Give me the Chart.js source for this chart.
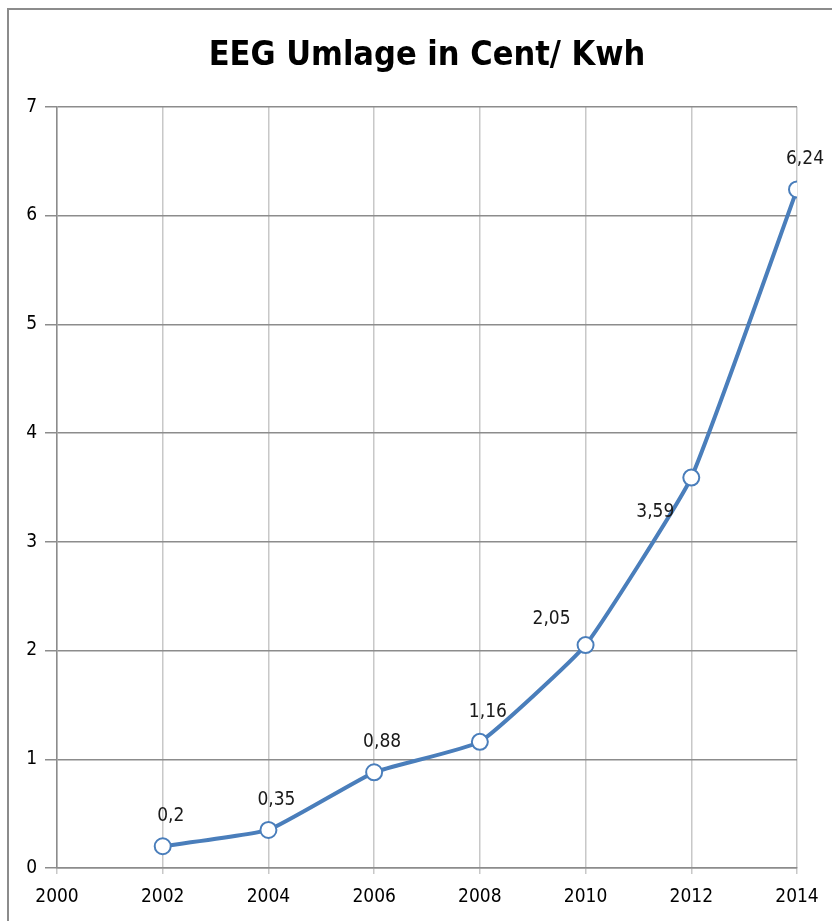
<!DOCTYPE html>
<html>
<head>
<meta charset="utf-8">
<script src="https://cdn.jsdelivr.net/npm/chart.js@4/dist/chart.umd.min.js"></script>
<style>
  html, body { margin: 0; padding: 0; background: #fff; overflow: hidden; }
  #frame { position: absolute; left: 7px; top: 8px; width: 900px; height: 1000px; border: 2px solid #8c8c8c; }
  #wrap { position: absolute; left: 0; top: 0; width: 832px; height: 921px; }
</style>
</head>
<body>
<div id="frame"></div>
<div id="wrap"><canvas id="chart" width="832" height="921"></canvas></div>
<script>
// Daten
const years = [2002, 2004, 2006, 2008, 2010, 2012, 2014];
const umlage = [0.2, 0.35, 0.88, 1.16, 2.05, 3.59, 6.24];
const xTicks = [2000, 2002, 2004, 2006, 2008, 2010, 2012, 2014];
const yTicks = [0, 1, 2, 3, 4, 5, 6, 7];

const fontFamily = '"DejaVu Sans Condensed", "Liberation Sans", sans-serif';
const blue = '#4a7ebb';

// Werte als Beschriftung über den Punkten (mit Komma)
const valueLabels = {
    id: 'valueLabels',
    afterDatasetsDraw(chart) {
        const ctx = chart.ctx;
        const meta = chart.getDatasetMeta(0);
        ctx.save();
        ctx.font = '19px ' + fontFamily;
        ctx.fillStyle = '#1a1a1a';
        ctx.textAlign = 'center';
        ctx.textBaseline = 'middle';
        meta.data.forEach((pt, i) => {
            const text = String(umlage[i]).replace('.', ',');
            let dx = 8, dy = -30;
            // bei steilem Anstieg links neben die Linie ausweichen
            const next = meta.data[i + 1];
            if (next) {
                const slope = (pt.y - next.y) / (next.x - pt.x);
                if (slope > 1.2) { dx = -34; dy = -26; }
                if (slope > 2) { dx = -36; dy = 34; }
            }
            ctx.fillText(text, pt.x + dx, pt.y + dy);
        });
        ctx.restore();
    }
};

// Titel über der Zeichenfläche zentrieren
const centerTitle = {
    id: 'centerTitle',
    afterLayout(chart) {
        if (chart.titleBlock) {
            chart.titleBlock.left = chart.chartArea.left;
            chart.titleBlock.right = chart.chartArea.right;
            chart.titleBlock.width = chart.chartArea.right - chart.chartArea.left;
        }
    }
};

const ctx = document.getElementById('chart').getContext('2d');
const chart = new Chart(ctx, {
    type: 'line',
    data: {
        datasets: [{
            label: 'EEG Umlage',
            data: years.map((y, i) => ({ x: y, y: umlage[i] })),
            borderColor: blue,
            borderWidth: 4,
            tension: 0.12,
            pointRadius: 8,
            pointBorderWidth: 2,
            pointBackgroundColor: '#fff',
            pointBorderColor: blue
        }]
    },
    options: {
        responsive: false,
        animation: false,
        layout: { padding: { left: 0, right: 35, top: 0, bottom: 0 } },
        plugins: {
            legend: { display: false },
            tooltip: { enabled: false },
            title: {
                display: true,
                text: 'EEG Umlage in Cent/ Kwh',
                color: '#000',
                font: { family: fontFamily, size: 34, weight: 'bold', lineHeight: 1.2 },
                padding: { top: 36, bottom: 30 }
            }
        },
        scales: {
            x: {
                type: 'linear',
                min: xTicks[0],
                max: xTicks[xTicks.length - 1],
                afterBuildTicks: scale => { scale.ticks = xTicks.map(v => ({ value: v })); },
                afterFit: scale => { scale.height = 53; },
                ticks: {
                    color: '#000',
                    font: { family: fontFamily, size: 19 },
                    padding: 12,
                    callback: v => String(v)
                },
                grid: { color: '#c8c8c8', lineWidth: 1.5, tickLength: 6 },
                border: { color: '#8c8c8c', width: 1.5 }
            },
            y: {
                min: yTicks[0],
                max: yTicks[yTicks.length - 1],
                afterBuildTicks: scale => { scale.ticks = yTicks.map(v => ({ value: v })); },
                afterFit: scale => { scale.width = 57; },
                ticks: {
                    color: '#000',
                    font: { family: fontFamily, size: 19 },
                    padding: 8
                },
                grid: { color: '#8c8c8c', lineWidth: 1.5, tickLength: 12 },
                border: { color: '#8c8c8c', width: 1.5 }
            }
        }
    },
    plugins: [valueLabels, centerTitle]
});
</script>
</body>
</html>
